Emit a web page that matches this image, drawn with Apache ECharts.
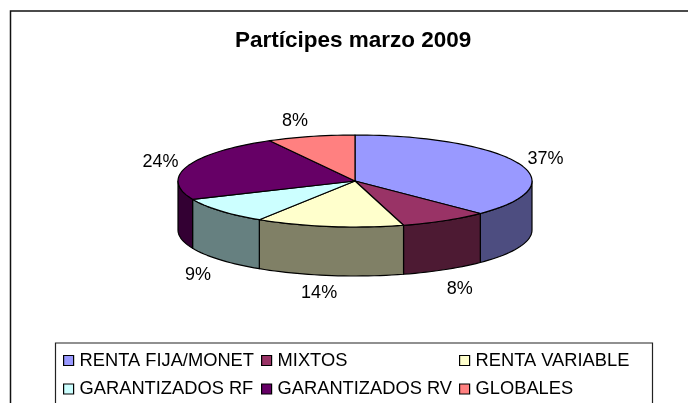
<!DOCTYPE html>
<html><head><meta charset="utf-8">
<style>html,body{margin:0;padding:0;background:#fff}#c{width:688px;height:403px}</style>
<script src="https://cdn.jsdelivr.net/npm/echarts@6/dist/echarts.min.js"></script>
</head><body><div id="c"></div>
<script>
const titleText = 'Partícipes marzo 2009';
const categories = ['RENTA FIJA/MONET','MIXTOS','RENTA VARIABLE','GARANTIZADOS RF','GARANTIZADOS RV','GLOBALES'];
const values = [37.48, 8.1, 13.51, 9.4, 23.51, 8.0];
const topColors = ['#9999FF','#993366','#FFFFCC','#CCFFFF','#660066','#FF8080'];
const sideColors = ['#4D4D80','#4D1A33','#808066','#668080','#330033','#804040'];
// label nudge from the rim point at each slice's mid angle
const labelDx = [27,15,-10,-22,-27,-16];
const labelDy = [-4,19,18,15,-4,-15];

const CX=355, CY=181, RX=177, RY=46, DEPTH=49, STEP=2;
const FONT='"Liberation Sans", Arial, sans-serif';
const total = values.reduce((a,b)=>a+b,0);
const pt=(deg,dy)=>{const r=deg*Math.PI/180;return [CX+RX*Math.sin(r),CY-RY*Math.cos(r)+(dy||0)];};
const arc=(a,b,dy)=>{const out=[];const n=Math.max(1,Math.ceil(Math.abs(b-a)/STEP));
  for(let i=0;i<=n;i++)out.push(pt(a+(b-a)*i/n,dy));return out;};
const lineStyle={stroke:'#000',lineWidth:1.2,lineJoin:'round'};

function renderSlice(idx){
  return function(params,api){
    const v=api.value(0);
    let before=0;for(let i=0;i<idx;i++)before+=values[i];
    const a=before/total*360,b=(before+v)/total*360,children=[];
    const wa=Math.max(a,90),wb=Math.min(b,270);
    if(wb>wa){
      const front=arc(wa,wb,0),back=arc(wb,wa,DEPTH);
      children.push({type:'polygon',z2:1,shape:{points:front.concat(back)},style:{fill:sideColors[idx],...lineStyle}});
    }
    children.push({type:'polygon',z2:2,shape:{points:[[CX,CY]].concat(arc(a,b,0))},style:{fill:topColors[idx],...lineStyle}});
    const mid=(a+b)/2,inFront=mid>90&&mid<270,p=pt(mid,inFront?DEPTH:0);
    children.push({type:'text',z2:3,style:{x:p[0]+labelDx[idx],y:p[1]+labelDy[idx],text:Math.round(v/total*100)+'%',
      fill:'#000',font:'18px '+FONT,align:'center',verticalAlign:'middle'}});
    return {type:'group',children};
  };
}
const legendBase={orient:'vertical',icon:'rect',itemWidth:10,itemHeight:10,itemGap:10.5,padding:0,selectedMode:false,
  itemStyle:{borderColor:'#000',borderWidth:1.2},
  textStyle:{fontFamily:FONT,fontSize:18.3,lineHeight:18,color:'#000',padding:[0,0,0,1]}};
const chart=echarts.init(document.getElementById('c'),null,{renderer:'canvas'});
chart.setOption({
  animation:false,backgroundColor:'#fff',
  title:{text:titleText,left:235,top:29,padding:0,textStyle:{fontFamily:FONT,fontSize:22.5,fontWeight:'bold',color:'#000'}},
  legend:[
    {...legendBase,left:63,top:351.5,data:[categories[0],categories[3]]},
    {...legendBase,left:261,top:351.5,data:[categories[1],categories[4]]},
    {...legendBase,left:459,top:351.5,data:[categories[2],categories[5]]}
  ],
  graphic:[
    {type:'rect',z:-1,silent:true,shape:{x:10.5,y:11,width:720,height:440},style:{fill:'#fff',stroke:'#111',lineWidth:1.5}},
    {type:'rect',z:-1,silent:true,shape:{x:55.5,y:343,width:597,height:100},style:{fill:'#fff',stroke:'#222',lineWidth:1.2}}
  ],
  series:categories.map((name,i)=>({type:'custom',name,coordinateSystem:'none',itemStyle:{color:topColors[i]},
    renderItem:renderSlice(i),data:[[values[i]]],silent:true}))
});
</script></body></html>
